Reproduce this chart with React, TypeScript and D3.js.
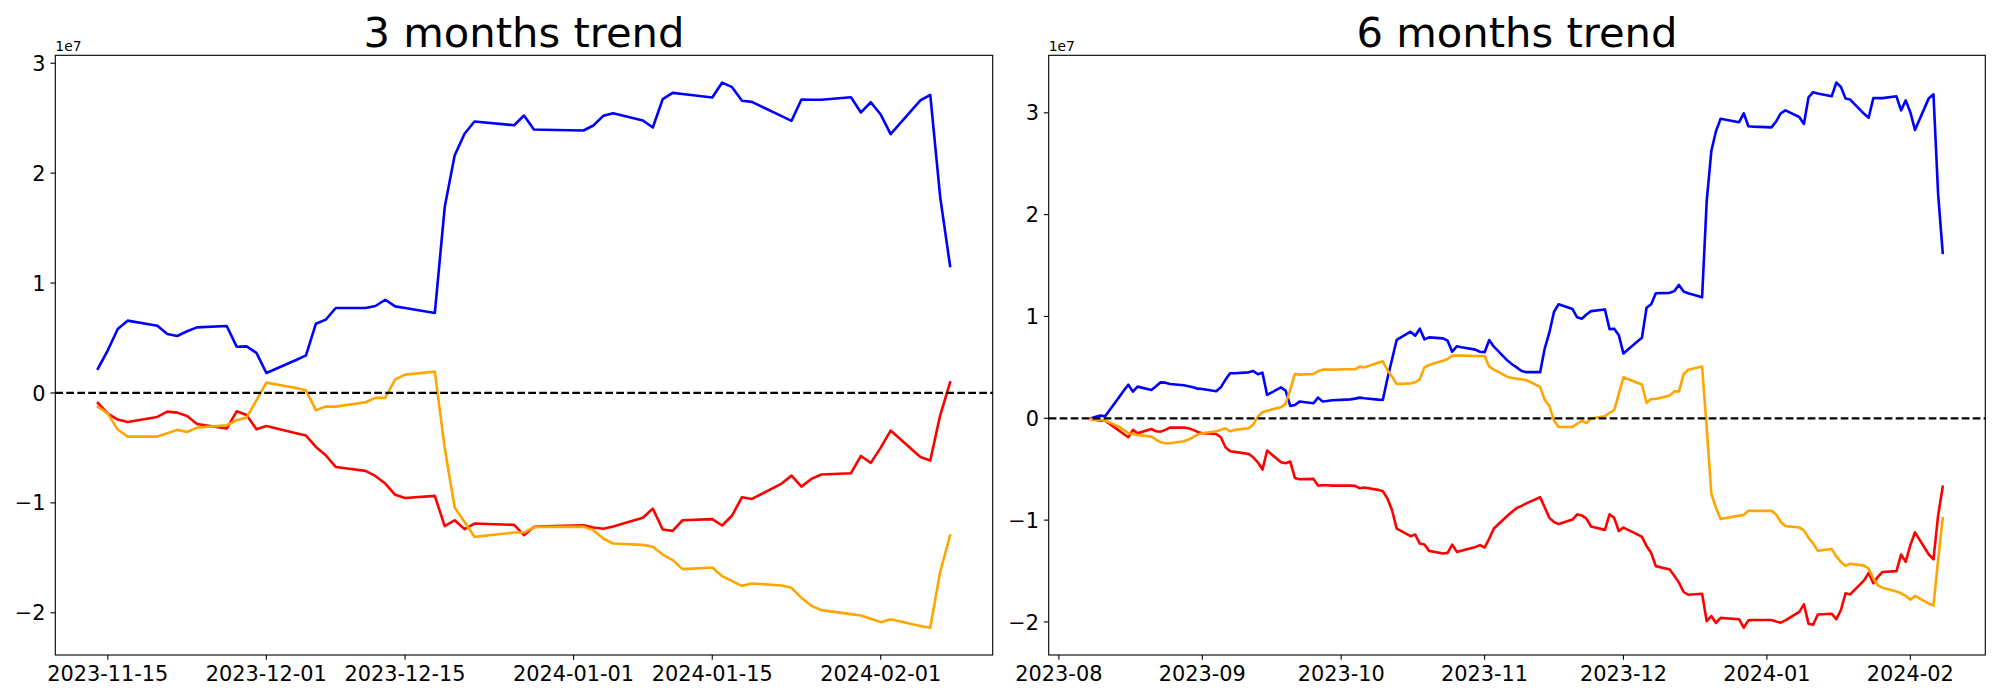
import React from "react";
import * as d3 from "d3";

// ---------- data (values in units of 1e7) ----------
const SCALE_LABEL = "1e7";

const dates3 = [
  "2023-11-14","2023-11-15","2023-11-16","2023-11-17","2023-11-20","2023-11-21","2023-11-22","2023-11-23","2023-11-24",
  "2023-11-27","2023-11-28","2023-11-29","2023-11-30","2023-12-01","2023-12-04","2023-12-05","2023-12-06","2023-12-07",
  "2023-12-08","2023-12-11","2023-12-12","2023-12-13","2023-12-14","2023-12-15","2023-12-18","2023-12-19","2023-12-20",
  "2023-12-21","2023-12-22","2023-12-26","2023-12-27","2023-12-28","2023-12-29","2024-01-02","2024-01-03","2024-01-04",
  "2024-01-05","2024-01-08","2024-01-09","2024-01-10","2024-01-11","2024-01-12","2024-01-15","2024-01-16","2024-01-17",
  "2024-01-18","2024-01-19","2024-01-22","2024-01-23","2024-01-24","2024-01-25","2024-01-26","2024-01-29","2024-01-30",
  "2024-01-31","2024-02-01","2024-02-02","2024-02-05","2024-02-06","2024-02-07","2024-02-08",
];
const blue3 = [
  0.221,0.388,0.582,0.658,0.612,0.536,0.518,0.561,0.597,
  0.609,0.421,0.424,0.364,0.182,0.300,0.342,0.630,0.667,
  0.773,0.773,0.791,0.848,0.788,0.773,0.727,1.691,2.161,
  2.358,2.470,2.436,2.524,2.397,2.395,2.388,2.433,2.521,
  2.545,2.479,2.415,2.673,2.730,2.720,2.688,2.824,2.782,
  2.658,2.648,2.518,2.476,2.670,2.668,2.667,2.691,2.552,
  2.645,2.533,2.355,2.661,2.712,1.782,1.155,
];
const red3 = [
  -0.091,-0.188,-0.242,-0.264,-0.218,-0.170,-0.179,-0.209,-0.282,
  -0.324,-0.167,-0.200,-0.330,-0.300,-0.367,-0.388,-0.491,-0.567,
  -0.673,-0.709,-0.755,-0.824,-0.927,-0.955,-0.936,-1.212,-1.158,
  -1.239,-1.188,-1.200,-1.294,-1.218,-1.212,-1.203,-1.224,-1.236,
  -1.215,-1.136,-1.052,-1.242,-1.255,-1.158,-1.148,-1.206,-1.115,
  -0.948,-0.964,-0.824,-0.752,-0.852,-0.782,-0.742,-0.730,-0.573,
  -0.636,-0.497,-0.342,-0.582,-0.615,-0.203,0.097,
];
const orange3 = [
  -0.127,-0.188,-0.333,-0.397,-0.397,-0.367,-0.336,-0.355,-0.315,
  -0.294,-0.248,-0.224,-0.067,0.094,0.045,0.024,-0.158,-0.124,
  -0.124,-0.085,-0.045,-0.045,0.124,0.167,0.194,-0.500,-1.042,
  -1.173,-1.309,-1.270,-1.270,-1.221,-1.218,-1.218,-1.248,-1.324,
  -1.370,-1.382,-1.400,-1.470,-1.521,-1.603,-1.588,-1.667,-1.712,
  -1.755,-1.733,-1.752,-1.773,-1.864,-1.936,-1.976,-2.012,-2.024,
  -2.055,-2.085,-2.058,-2.121,-2.136,-1.627,-1.297,
];

const dates6 = [
  "2023-08-08","2023-08-09","2023-08-10","2023-08-11","2023-08-14","2023-08-15","2023-08-16","2023-08-17","2023-08-18",
  "2023-08-21","2023-08-22","2023-08-23","2023-08-24","2023-08-25","2023-08-28","2023-08-29","2023-08-30","2023-08-31",
  "2023-09-01","2023-09-04","2023-09-05","2023-09-06","2023-09-07","2023-09-08","2023-09-11","2023-09-12","2023-09-13",
  "2023-09-14","2023-09-15","2023-09-18","2023-09-19","2023-09-20","2023-09-21","2023-09-22","2023-09-25","2023-09-26",
  "2023-09-27","2023-09-28","2023-09-29",
  "2023-10-02","2023-10-03","2023-10-04","2023-10-05","2023-10-06","2023-10-09","2023-10-10","2023-10-11","2023-10-12",
  "2023-10-13","2023-10-16","2023-10-17","2023-10-18","2023-10-19","2023-10-20","2023-10-23","2023-10-24","2023-10-25",
  "2023-10-26","2023-10-27","2023-10-30","2023-10-31",
  "2023-11-01","2023-11-02","2023-11-03","2023-11-06","2023-11-07","2023-11-08","2023-11-09","2023-11-10","2023-11-13",
  "2023-11-14","2023-11-15","2023-11-16","2023-11-17","2023-11-20","2023-11-21","2023-11-22","2023-11-23","2023-11-24",
  "2023-11-27","2023-11-28","2023-11-29","2023-11-30",
  "2023-12-01","2023-12-04","2023-12-05","2023-12-06","2023-12-07","2023-12-08","2023-12-11","2023-12-12","2023-12-13",
  "2023-12-14","2023-12-15","2023-12-18","2023-12-19","2023-12-20","2023-12-21","2023-12-22","2023-12-26","2023-12-27",
  "2023-12-28","2023-12-29",
  "2024-01-02","2024-01-03","2024-01-04","2024-01-05","2024-01-08","2024-01-09","2024-01-10","2024-01-11","2024-01-12",
  "2024-01-15","2024-01-16","2024-01-17","2024-01-18","2024-01-19","2024-01-22","2024-01-23","2024-01-24","2024-01-25",
  "2024-01-26","2024-01-29","2024-01-30","2024-01-31",
  "2024-02-01","2024-02-02","2024-02-05","2024-02-06","2024-02-07","2024-02-08",
];
const blue6 = [
  0.000,0.016,0.026,0.020,0.206,0.270,0.330,0.262,0.311,
  0.278,0.314,0.353,0.350,0.337,0.324,0.314,0.304,0.291,
  0.288,0.265,0.304,0.379,0.442,0.442,0.451,0.465,0.432,
  0.448,0.229,0.304,0.272,0.121,0.131,0.164,0.147,0.203,
  0.164,0.170,0.177,
  0.183,0.186,0.193,0.203,0.196,0.183,0.180,0.390,0.580,
  0.769,0.850,0.811,0.880,0.775,0.795,0.785,0.762,0.654,
  0.707,0.697,0.674,0.654,
  0.648,0.769,0.703,0.564,0.528,0.497,0.464,0.453,0.453,
  0.687,0.843,1.046,1.120,1.073,0.992,0.978,1.019,1.052,
  1.069,0.876,0.880,0.816,
  0.636,0.755,0.792,1.086,1.120,1.228,1.232,1.249,1.310,
  1.245,1.228,1.188,2.135,2.626,2.819,2.941,2.908,2.995,
  2.868,2.864,
  2.857,2.915,2.995,3.024,2.959,2.890,3.152,3.202,3.190,
  3.162,3.297,3.253,3.141,3.130,2.990,2.952,3.144,3.144,
  3.144,3.162,3.024,3.122,
  3.006,2.832,3.144,3.181,2.206,1.625,
];
const red6 = [
  -0.007,-0.016,-0.023,-0.023,-0.121,-0.154,-0.186,-0.114,-0.147,
  -0.105,-0.128,-0.131,-0.114,-0.092,-0.092,-0.098,-0.114,-0.134,
  -0.147,-0.154,-0.186,-0.285,-0.324,-0.330,-0.350,-0.383,-0.432,
  -0.504,-0.317,-0.432,-0.442,-0.425,-0.586,-0.599,-0.595,-0.661,
  -0.658,-0.658,-0.661,
  -0.661,-0.661,-0.664,-0.687,-0.680,-0.703,-0.716,-0.788,-0.903,
  -1.083,-1.158,-1.142,-1.230,-1.240,-1.302,-1.328,-1.322,-1.240,
  -1.312,-1.300,-1.263,-1.246,
  -1.269,-1.181,-1.083,-0.955,-0.915,-0.880,-0.860,-0.836,-0.775,
  -0.876,-0.978,-1.019,-1.039,-0.995,-0.944,-0.954,-0.985,-1.063,
  -1.096,-0.944,-0.978,-1.107,
  -1.073,-1.140,-1.164,-1.255,-1.323,-1.452,-1.486,-1.547,-1.614,
  -1.706,-1.733,-1.723,-1.993,-1.942,-2.010,-1.960,-1.974,-2.057,
  -1.985,-1.981,
  -1.981,-1.996,-2.007,-1.985,-1.901,-1.828,-2.017,-2.028,-1.927,
  -1.919,-1.974,-1.883,-1.719,-1.730,-1.592,-1.519,-1.621,-1.556,
  -1.509,-1.501,-1.338,-1.410,
  -1.247,-1.120,-1.338,-1.385,-0.956,-0.672,
];
const orange6 = [
  -0.007,-0.013,-0.016,-0.023,-0.082,-0.114,-0.147,-0.154,-0.164,
  -0.180,-0.209,-0.236,-0.245,-0.245,-0.226,-0.209,-0.186,-0.160,
  -0.147,-0.128,-0.114,-0.098,-0.128,-0.114,-0.098,-0.062,0.016,
  0.059,0.075,0.108,0.141,0.280,0.435,0.429,0.435,0.461,
  0.478,0.478,0.478,
  0.481,0.481,0.481,0.507,0.500,0.546,0.559,0.474,0.409,
  0.337,0.343,0.353,0.383,0.500,0.523,0.566,0.582,0.615,
  0.615,0.615,0.612,0.612,
  0.612,0.507,0.478,0.406,0.396,0.389,0.382,0.376,0.308,
  0.179,0.122,-0.024,-0.085,-0.085,-0.054,-0.024,-0.047,-0.003,
  0.020,0.054,0.081,0.240,
  0.403,0.349,0.332,0.152,0.190,0.190,0.223,0.264,0.264,
  0.433,0.477,0.508,-0.100,-0.741,-0.880,-0.990,-0.956,-0.949,
  -0.909,-0.909,
  -0.909,-0.945,-1.018,-1.058,-1.072,-1.101,-1.174,-1.229,-1.301,
  -1.283,-1.356,-1.410,-1.450,-1.429,-1.447,-1.476,-1.574,-1.639,
  -1.665,-1.701,-1.719,-1.745,
  -1.781,-1.745,-1.821,-1.839,-1.392,-0.981,
];

const yTickValues = [-2, -1, 0, 1, 2, 3];
const xTicks3 = ["2023-11-15", "2023-12-01", "2023-12-15", "2024-01-01", "2024-01-15", "2024-02-01"];
const xTickLabels3 = ["2023-11-15", "2023-12-01", "2023-12-15", "2024-01-01", "2024-01-15", "2024-02-01"];
const xTicks6 = ["2023-08-01", "2023-09-01", "2023-10-01", "2023-11-01", "2023-12-01", "2024-01-01", "2024-02-01"];
const xTickLabels6 = ["2023-08", "2023-09", "2023-10", "2023-11", "2023-12", "2024-01", "2024-02"];

const titles = ["3 months trend", "6 months trend"];
const seriesColors = ["#0000ff", "#ff0000", "#ffa500"];

// ---------- layout ----------
const W = 2000, H = 700;
const TOP = 55.3, BOTTOM = 655;
const FONT = "DejaVu Sans, Liberation Sans, sans-serif";
const TICK_FS = 20.83;
const TICK_LEN = 4.86;
const parse = d3.utcParse("%Y-%m-%d");

type PanelProps = {
  left: number; right: number; title: string;
  dates: string[]; series: number[][];
  xTicks: string[]; xTickLabels: string[];
};

function withMargin(lo: number, hi: number) {
  const m = (hi - lo) * 0.05;
  return [lo - m, hi + m];
}

function Panel({ left, right, title, dates, series, xTicks, xTickLabels }: PanelProps) {
  const ds = dates.map((d) => parse(d) as Date);
  const [tx0, tx1] = withMargin(+ds[0], +ds[ds.length - 1]);
  const x = d3.scaleUtc().domain([new Date(tx0), new Date(tx1)]).range([left, right]);
  const all = series.flat();
  const [y0, y1] = withMargin(d3.min(all) as number, d3.max(all) as number);
  const y = d3.scaleLinear().domain([y0, y1]).range([BOTTOM, TOP]);
  const line = d3.line<number>().x((_, i) => x(ds[i])).y((v) => y(v));
  const fmt = (v: number) => (v < 0 ? "\u2212" + Math.abs(v) : String(v));
  return (
    <g>
      {series.map((s, k) => (
        <path key={k} d={line(s) || ""} fill="none" stroke={seriesColors[k]} strokeWidth={2.6}
          strokeLinejoin="round" strokeLinecap="square" />
      ))}
      <line x1={left} x2={right} y1={y(0)} y2={y(0)} stroke="#000" strokeWidth={2.2} strokeDasharray="7.7,3.3" />
      <rect x={left} y={TOP} width={right - left} height={BOTTOM - TOP} fill="none" stroke="#000" strokeWidth={1.11} />
      {xTicks.map((t, i) => {
        const px = x(parse(t) as Date);
        return (
          <g key={t}>
            <line x1={px} x2={px} y1={BOTTOM} y2={BOTTOM + TICK_LEN} stroke="#000" strokeWidth={1.11} />
            <text x={px} y={681} textAnchor="middle" fontFamily={FONT} fontSize={TICK_FS} fill="#000">{xTickLabels[i]}</text>
          </g>
        );
      })}
      {yTickValues.map((v) => {
        const py = y(v);
        return (
          <g key={v}>
            <line x1={left - TICK_LEN} x2={left} y1={py} y2={py} stroke="#000" strokeWidth={1.11} />
            <text x={left - TICK_LEN - 4.9} y={py + 7.6} textAnchor="end" fontFamily={FONT} fontSize={TICK_FS} fill="#000">{fmt(v)}</text>
          </g>
        );
      })}
      <text x={left} y={50.5} fontFamily={FONT} fontSize={13.9} fill="#000">{SCALE_LABEL}</text>
      <text x={(left + right) / 2} y={47} textAnchor="middle" fontFamily={FONT} fontSize={41.67} fill="#000">{title}</text>
    </g>
  );
}

export default function App() {
  return (
    <svg width={W} height={H} viewBox={`0 0 ${W} ${H}`}
      style={{ position: "absolute", left: 0, top: 0, background: "#fff" }}>
      <rect x={0} y={0} width={W} height={H} fill="#fff" />
      <Panel left={55.3} right={992.7} title={titles[0]} dates={dates3}
        series={[blue3, red3, orange3]} xTicks={xTicks3} xTickLabels={xTickLabels3} />
      <Panel left={1048.7} right={1985.3} title={titles[1]} dates={dates6}
        series={[blue6, red6, orange6]} xTicks={xTicks6} xTickLabels={xTickLabels6} />
    </svg>
  );
}
